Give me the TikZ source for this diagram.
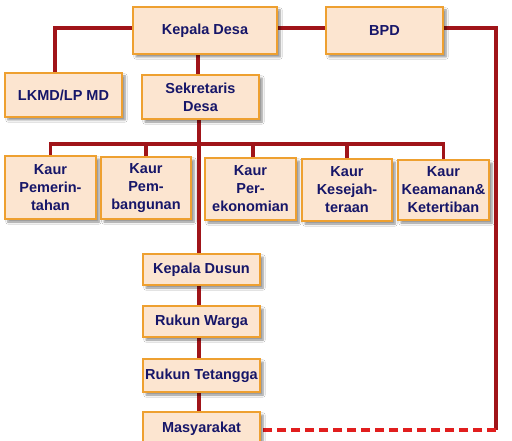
\documentclass[tikz,border=0pt]{standalone}
\usepackage{fontspec}
\setmainfont{Liberation Sans}
\usetikzlibrary{shadows.blur,backgrounds}
\definecolor{linered}{RGB}{160,20,25}
\definecolor{dashred}{RGB}{225,30,30}
\definecolor{boxfill}{RGB}{252,229,208}
\definecolor{boxedge}{RGB}{238,160,48}
\definecolor{navy}{RGB}{22,22,105}
\tikzset{
  box/.style={draw=boxedge, line width=1.8pt, fill=boxfill, inner sep=0pt,
    text=navy, font=\bfseries\fontsize{14.5}{18}\selectfont, align=center,
    blur shadow={shadow xshift=3pt, shadow yshift=-3pt, shadow blur steps=6, shadow opacity=45}},
  conn/.style={draw=linered, line width=3.5pt},
  dconn/.style={draw=dashred, line width=3.5pt, dash pattern=on 9pt off 5pt}
}
\begin{document}
\begin{tikzpicture}[x=1pt,y=-1pt]
\clip (0,0) rectangle (512,441);
\coordinate (bus) at (199,144);
\coordinate (rt) at (496,28);
\coordinate (rb) at (496,430);
\node[box, minimum width=144pt, minimum height=47pt] (kd) at (205,30.5) {Kepala Desa};
\node[box, minimum width=117pt, minimum height=47pt] (bpd) at (384.5,30.5) {BPD};
\node[box, minimum width=117pt, minimum height=44pt] (lkmd) at (63.5,95) {LKMD/LP MD};
\node[box, minimum width=117pt, minimum height=44pt] (sek) at (200.5,97) {Sekretaris\\Desa};
\node[box, minimum width=91pt, minimum height=63pt] (k1) at (50.5,187.5) {Kaur\\Pemerin-\\tahan};
\node[box, minimum width=90pt, minimum height=62pt] (k2) at (146,188) {Kaur\\Pem-\\bangunan};
\node[box, minimum width=91pt, minimum height=62pt] (k3) at (250.5,189) {Kaur\\Per-\\ekonomian};
\node[box, minimum width=90pt, minimum height=62pt] (k4) at (347,190) {Kaur\\Kesejah-\\teraan};
\node[box, minimum width=91pt, minimum height=60pt] (k5) at (443.5,190) {Kaur\\Keamanan\&\\Ketertiban};
\node[box, minimum width=117pt, minimum height=31pt] (kdus) at (201.5,269.5) {Kepala Dusun};
\node[box, minimum width=117pt, minimum height=31pt] (rw) at (201.5,321.5) {Rukun Warga};
\node[box, minimum width=117pt, minimum height=33pt] (rtg) at (201.5,375.5) {Rukun Tetangga};
\node[box, minimum width=117pt, minimum height=36pt] (ms) at (201.5,430) {\raisebox{6pt}{Masyarakat}};
\begin{scope}[on background layer]
\fill[white] (0,0) rectangle (512,441);
\draw[conn] ([yshift=2.5pt]kd.west) -| ([xshift=-8.5pt]lkmd.north);
\draw[conn] ([yshift=2.5pt]kd.east) -- ([yshift=2.5pt]bpd.west);
\draw[conn] ([yshift=2.5pt]bpd.east) -- (rt) -- (rb);
\draw[dconn] (rb) -- (ms.east |- rb);
\draw[conn] ([xshift=-7pt]kd.south) -- ([xshift=-7pt]kd.south |- sek.north);
\draw[conn] ([xshift=-1.5pt]sek.south) -- ([xshift=-2.5pt]kdus.north);
\draw[conn] (k1.north) -- (k1.north |- bus) -- (k5.north |- bus) -- (k5.north);
\draw[conn] (k2.north) -- (k2.north |- bus);
\draw[conn] ([xshift=2.5pt]k3.north) -- ([xshift=2.5pt]k3.north |- bus);
\draw[conn] (k4.north) -- (k4.north |- bus);
\draw[conn] ([xshift=-2.5pt]kdus.south) -- ([xshift=-2.5pt]rw.north);
\draw[conn] ([xshift=-2.5pt]rw.south) -- ([xshift=-2.5pt]rtg.north);
\draw[conn] ([xshift=-2.5pt]rtg.south) -- ([xshift=-2.5pt]ms.north);
\end{scope}
\end{tikzpicture}
\end{document}
